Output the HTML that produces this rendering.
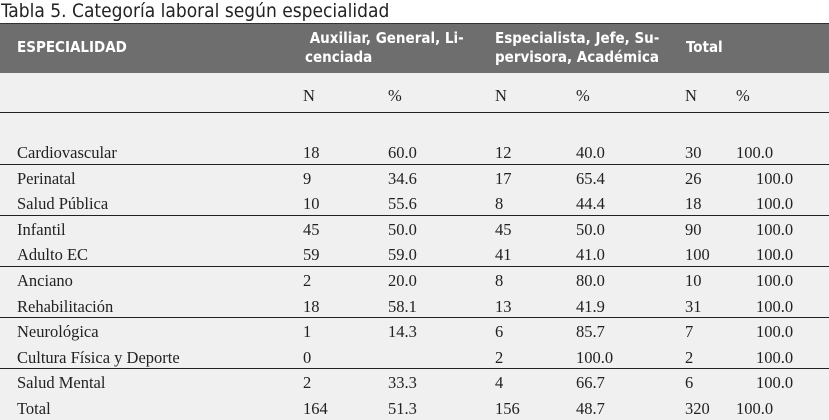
<!DOCTYPE html>
<html><head><meta charset="utf-8">
<style>
body{margin:0;width:829px;height:420px;background:#fff;position:relative;overflow:hidden;font-family:"Liberation Serif",serif;}
.t{position:absolute;white-space:nowrap;}
#title{left:1px;top:0px;font:19px "DejaVu Sans Condensed","Liberation Sans",sans-serif;color:#222;}
#hdr{position:absolute;left:0;top:23px;width:829px;height:50px;background:#6e6e6e;border-top:1px solid #333;}
#body{position:absolute;left:0;top:73px;width:829px;height:347px;background:#f0f0f1;}
.h{position:absolute;color:#fff;font:bold 15px "DejaVu Sans Condensed","Liberation Sans",sans-serif;line-height:19px;white-space:nowrap;}
.c{position:absolute;font-size:16.5px;color:#222;white-space:nowrap;}
.ln{position:absolute;left:0;width:829px;height:1px;background:#222;}
</style></head><body>
<div id="title" class="t">Tabla 5. Categoría laboral según especialidad</div>
<div id="hdr">
<div class="h" style="left:17px;top:14px">ESPECIALIDAD</div>
<div class="h" style="left:305px;top:5px">&nbsp;Auxiliar, General, Li-<br>cenciada</div>
<div class="h" style="left:495px;top:5px">Especialista, Jefe, Su-<br>pervisora, Académica</div>
<div class="h" style="left:686px;top:14px">Total</div>
</div>
<div id="body"></div>
<div class="c" style="left:303px;top:86px">N</div>
<div class="c" style="left:388px;top:86px">%</div>
<div class="c" style="left:495px;top:86px">N</div>
<div class="c" style="left:576px;top:86px">%</div>
<div class="c" style="left:685px;top:86px">N</div>
<div class="c" style="left:736px;top:86px">%</div>
<div class="ln" style="top:112px"></div>
<div id="rows"></div>
<script>
const labels=["Cardiovascular","Perinatal","Salud Pública","Infantil","Adulto EC","Anciano","Rehabilitación","Neurológica","Cultura Física y Deporte","Salud Mental","Total"];
const n1=["18","9","10","45","59","2","18","1","0","2","164"];
const p1=["60.0","34.6","55.6","50.0","59.0","20.0","58.1","14.3","","33.3","51.3"];
const n2=["12","17","8","45","41","8","13","6","2","4","156"];
const p2=["40.0","65.4","44.4","50.0","41.0","80.0","41.9","85.7","100.0","66.7","48.7"];
const n3=["30","26","18","90","100","10","31","7","2","6","320"];
const p3=["100.0","100.0","100.0","100.0","100.0","100.0","100.0","100.0","100.0","100.0","100.0"];
const rulesAfter=[0,2,4,6,8];
const root=document.getElementById('rows');
const rowH=25.6, top0=138;
function cell(txt,x,y,name){
  const d=document.createElement('div');
  d.className='c';d.textContent=txt;d.style.left=x+'px';d.style.top=y+'px';
  
  
  root.appendChild(d);
}
labels.forEach((l,i)=>{
  const y=top0+i*rowH+5;
  cell(l,17,y,'row-label');
  cell(n1[i],303,y,'cell-n-auxiliar');
  cell(p1[i],388,y,'cell-pct-auxiliar');
  cell(n2[i],495,y,'cell-n-especialista');
  cell(p2[i],576,y,'cell-pct-especialista');
  cell(n3[i],685,y,'cell-n-total');
  const shift=(i===0||i===labels.length-1)?736:756;
  cell(p3[i],shift,y,'cell-pct-total');
  if(rulesAfter.includes(i)){
    const r=document.createElement('div');
    r.className='ln';r.style.top=Math.round(top0+(i+1)*rowH)+'px';
    
    
    root.appendChild(r);
  }
});
</script>
</body></html>
